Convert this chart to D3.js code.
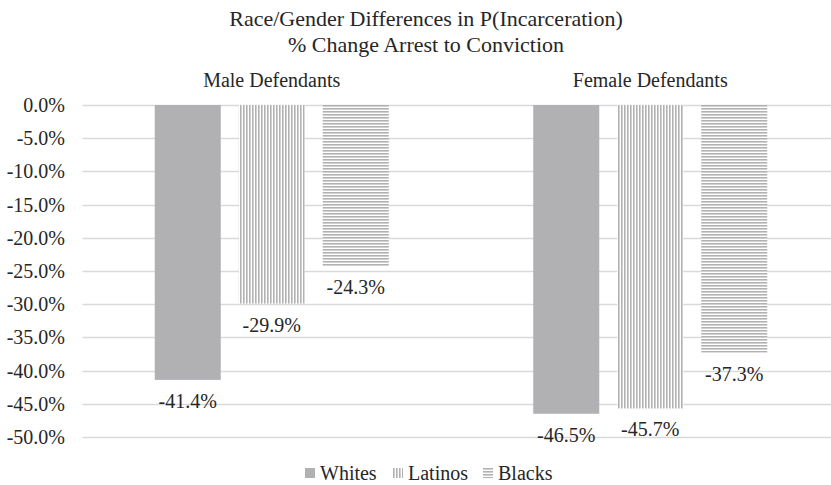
<!DOCTYPE html>
<html><head><meta charset="utf-8">
<script src="https://cdn.jsdelivr.net/npm/d3@7"></script>
<style>body{margin:0;background:#fff}svg text{font-family:"Liberation Serif","DejaVu Serif","Times New Roman",serif;fill:#262626}</style>
</head><body><svg id="c" width="831" height="485"></svg>
<script>
const groups = ["Male Defendants", "Female Defendants"];
const series = ["Whites", "Latinos", "Blacks"];
const whites = [-41.4, -46.5];
const latinos = [-29.9, -45.7];
const blacks = [-24.3, -37.3];
const yTicks = [0, -5, -10, -15, -20, -25, -30, -35, -40, -45, -50];
const titleLines = ["Race/Gender Differences in P(Incarceration)", "% Change Arrest to Conviction"];

(function(){
const values = [whites, latinos, blacks];
const fmt = v => d3.format(".1f")(v).replace("\u2212", "-") + "%";
const svg = d3.select("#c");
const defs = svg.append("defs");
const col = "#b1b1b4";
const pv = defs.append("pattern").attr("id","pv").attr("patternUnits","userSpaceOnUse").attr("width",3).attr("height",3);
pv.append("rect").attr("width",3).attr("height",3).attr("fill","#fff");
pv.append("rect").attr("width",1.6).attr("height",3).attr("fill",col);
const ph = defs.append("pattern").attr("id","ph").attr("patternUnits","userSpaceOnUse").attr("width",3).attr("height",3);
ph.append("rect").attr("width",3).attr("height",3).attr("fill","#fff");
ph.append("rect").attr("width",3).attr("height",1.6).attr("fill",col);
const fills = [col, "url(#pv)", "url(#ph)"];

const pL = 82.5, pR = 839.5, pT = 105, pB = 437;
const y = d3.scaleLinear().domain([0, -50]).range([pT, pB]);
const x0 = d3.scaleBand().domain(groups).range([pL, pR]).paddingInner(0).paddingOuter(0);
const x1 = d3.scaleBand().domain(series).range([0, x0.bandwidth()]).paddingInner(0.214).paddingOuter(0.86);

svg.append("g").selectAll("line").data(yTicks).join("line")
  .attr("x1", pL).attr("x2", 831).attr("y1", d => Math.round(y(d))+0.5).attr("y2", d => Math.round(y(d))+0.5)
  .attr("stroke", "#d9d9d9").attr("stroke-width", 1.3);

svg.append("g").selectAll("text").data(yTicks).join("text")
  .attr("x", 65).attr("y", d => y(d)).attr("dy", "0.35em").attr("text-anchor", "end")
  .style("font-size", "20px").text(fmt);

series.forEach((s, si) => {
  const g = svg.append("g");
  const data = groups.map((gr, gi) => ({gr, v: values[si][gi]}));
  g.selectAll("rect").data(data).join("rect")
    .attr("x", d => x0(d.gr) + x1(s)).attr("width", x1.bandwidth())
    .attr("y", y(0)).attr("height", d => y(d.v) - y(0)).attr("fill", fills[si]);
  g.selectAll("text").data(data).join("text")
    .attr("x", d => x0(d.gr) + x1(s) + x1.bandwidth()/2).attr("y", d => y(d.v) + 21).attr("dy","0.35em")
    .attr("text-anchor", "middle").style("font-size", "20px").text(d => fmt(d.v));
});

svg.append("g").selectAll("text").data(groups).join("text")
  .attr("x", d => x0(d) + x0.bandwidth()/2).attr("y", 80).attr("dy","0.35em").attr("text-anchor","middle")
  .style("font-size","20px").text(d => d);

svg.append("g").selectAll("text").data(titleLines).join("text")
  .attr("x", 426).attr("y", (d,i) => 18 + i*26).attr("dy","0.35em").attr("text-anchor","middle")
  .style("font-size","22px").text(d => d);

const legX = [305, 393, 483];
const lg = svg.append("g");
series.forEach((s, i) => {
  lg.append("rect").attr("x", legX[i]).attr("y", 468).attr("width", 10).attr("height", 10).attr("fill", fills[i]);
  lg.append("text").attr("x", legX[i] + 15).attr("y", 473).attr("dy","0.35em").style("font-size","20px").text(s);
});
})();
</script></body></html>
